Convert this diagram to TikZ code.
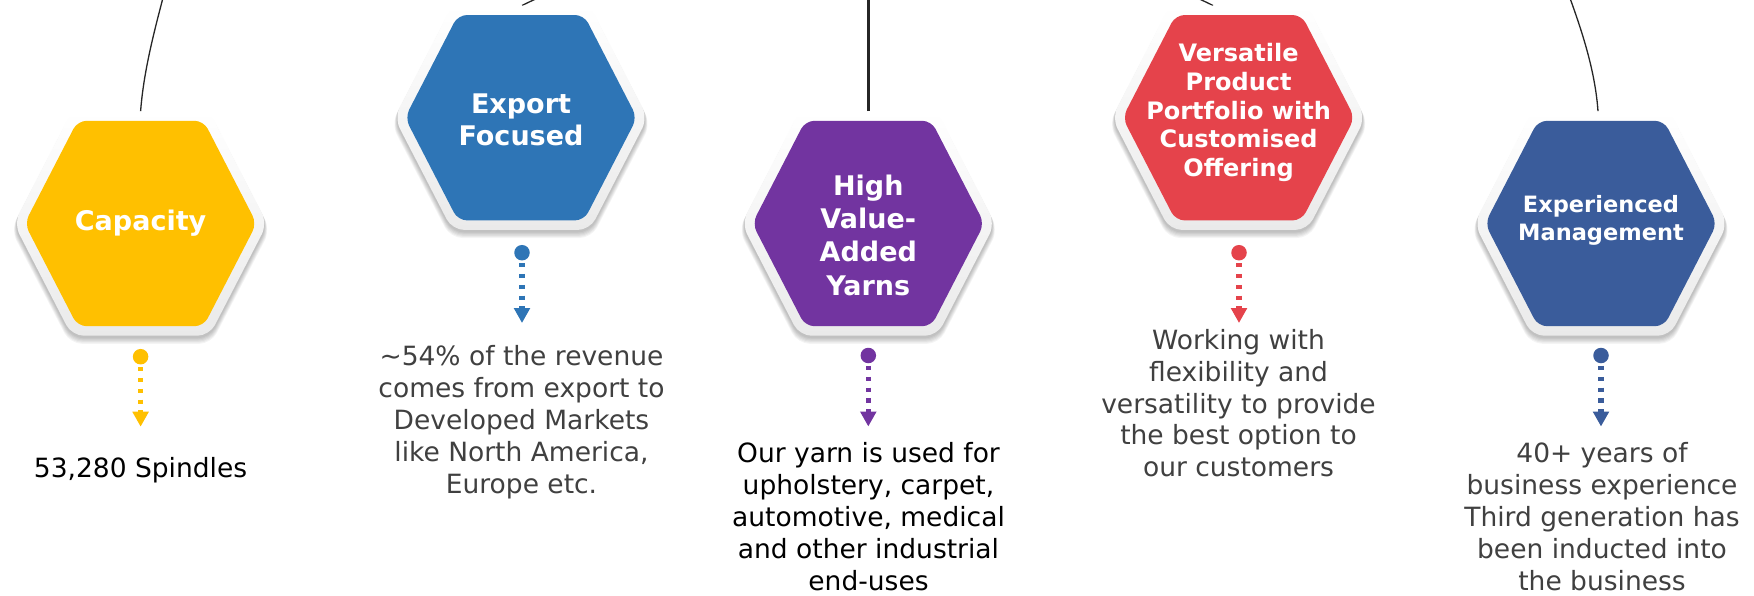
\documentclass[tikz,border=0pt]{standalone}
\usepackage{fontspec}
\setmainfont{DejaVu Sans}
\usetikzlibrary{arrows.meta}

\definecolor{capyellow}{HTML}{FFC000}
\definecolor{expblue}{HTML}{2E75B6}
\definecolor{yarnpurple}{HTML}{7234A0}
\definecolor{versred}{HTML}{E5434B}
\definecolor{mgmtblue}{HTML}{3A5C9B}
\definecolor{bodygray}{HTML}{404040}
\definecolor{linegray}{HTML}{262626}
\definecolor{rimgray}{HTML}{EAEAEA}

% badge: soft shadow, pale rim and coloured hexagon, centred at #1
\newcommand\hexbadge[2]{%
  \begin{scope}[shift={(#1)}]
    \foreach \k in {1,...,6}{
      \fill[black, opacity=0.045, rounded corners=12pt, shift={(0,1.5+0.8*\k)}]
        (0,-112.2-0.3*\k) -- (68.8+0.3*\k,-112.2-0.3*\k) -- (126.7+0.5*\k,0)
        -- (68.8+0.3*\k,112.2+0.3*\k) -- (-68.8-0.3*\k,112.2+0.3*\k)
        -- (-126.7-0.5*\k,0) -- (-68.8-0.3*\k,-112.2-0.3*\k) -- cycle;
    }
    \shade[top color=white, bottom color=rimgray, rounded corners=12pt]
      (0,-112.2) -- (68.8,-112.2) -- (126.7,0) -- (68.8,112.2) -- (-68.8,112.2)
      -- (-126.7,0) -- (-68.8,-112.2) -- cycle;
    \fill[#2, rounded corners=9pt]
      (0,-102.7) -- (63,-102.7) -- (116,0) -- (63,102.7) -- (-63,102.7)
      -- (-116,0) -- (-63,-102.7) -- cycle;
  \end{scope}}

\tikzset{
  title/.style={text=white, align=center, anchor=north, inner sep=0pt},
  note/.style={align=center, anchor=north, inner sep=0pt,
               font=\fontsize{26.5}{31.8}\selectfont},
  pin/.style={circle, fill, inner sep=0pt, minimum size=15.5pt},
  dotline/.style={line width=5.5pt, dash pattern=on 4.3pt off 6.5pt,
                  shorten <=2.5pt, -{Triangle[width=15.5pt,length=15pt]}},
  link/.style={draw=linegray, line width=1.3pt},
}

\begin{document}
\begin{tikzpicture}[x=1pt,y=-1pt]
  \useasboundingbox (0,0) rectangle (1754,595);
  \fill[white] (0,0) rectangle (1754,595);
  \clip (0,0) rectangle (1754,595);

  % connection points on the top of each badge, and far ends of the links
  \coordinate (capT) at (140.6,111.3);
  \coordinate (expT) at (522,5.5);
  \coordinate (hvaT) at (868.3,111.3);
  \coordinate (verT) at (1213,5.5);
  \coordinate (mgtT) at (1598,111.3);
  \coordinate (capF) at (185,-100);
  \coordinate (expF) at (700,-60);
  \coordinate (hvaF) at (868.3,-60);
  \coordinate (verF) at (1040,-60);
  \coordinate (mgtF) at (1535,-100);

  % links running up out of the picture
  \draw[link] (capT) .. controls (146,40) and (175,-30) .. (capF);
  \draw[link] (expT) .. controls (545,-6) and (600,-30) .. (expF);
  \draw[link, line width=2.6pt] (hvaT) -- (hvaF);
  \draw[link] (verT) .. controls (1190,-6) and (1135,-30) .. (verF);
  \draw[link] (mgtT) .. controls (1593,40) and (1556,-30) .. (mgtF);

  % badges
  \hexbadge{140.6,223.5}{capyellow}
  \hexbadge{521,117.7}{expblue}
  \hexbadge{868.3,223.5}{yarnpurple}
  \hexbadge{1238.6,117.7}{versred}
  \hexbadge{1601,223.5}{mgmtblue}

  % badge titles
  \node[title, font=\fontsize{27}{32}\selectfont\bfseries] (cap) at (140.6,208.3)
    {\strut Capacity};
  \node[title, font=\fontsize{27}{32}\selectfont\bfseries] (exp) at (521,90.9)
    {\strut Export\\Focused};
  \node[title, font=\fontsize{27}{33.3}\selectfont\bfseries] (hva) at (868.3,171.7)
    {\strut High\\Value-\\Added\\Yarns};
  \node[title, font=\fontsize{24}{28.7}\selectfont\bfseries] (ver) at (1238.6,41.6)
    {\strut Versatile\\Product\\Portfolio with\\Customised\\Offering};
  \node[title, font=\fontsize{22.5}{28.4}\selectfont\bfseries] (mgt) at (1601,192.4)
    {\strut Experienced\\Management};

  % dotted pointers from each badge to its note
  \node[pin, capyellow] (capdot) at (140.6,356.7) {};
  \node[pin, expblue] (expdot) at (522,252.7) {};
  \node[pin, yarnpurple] (hvadot) at (868.3,355.5) {};
  \node[pin, versred] (verdot) at (1239,252.7) {};
  \node[pin, mgmtblue] (mgtdot) at (1601,355.5) {};
  \coordinate (captip) at (140.6,426.7);
  \coordinate (exptip) at (522,323);
  \coordinate (hvatip) at (868.3,426.5);
  \coordinate (vertip) at (1239,323);
  \coordinate (mgttip) at (1601,426.5);
  \draw[dotline, capyellow] (capdot) -- (captip);
  \draw[dotline, expblue] (expdot) -- (exptip);
  \draw[dotline, yarnpurple] (hvadot) -- (hvatip);
  \draw[dotline, versred] (verdot) -- (vertip);
  \draw[dotline, mgmtblue] (mgtdot) -- (mgttip);

  % notes
  \node[note, text=black] (capnote) at (140.6,455.0)
    {\strut 53,280 Spindles};
  \node[note, text=bodygray] (expnote) at (521.5,343.4)
    {\strut \textasciitilde54\% of the revenue\\comes from export to\\Developed Markets\\like North America,\\Europe etc.};
  \node[note, text=black] (hvanote) at (868.5,440.4)
    {\strut Our yarn is used for\\upholstery, carpet,\\automotive, medical\\and other industrial\\end-uses};
  \node[note, text=bodygray] (vernote) at (1238.5,327.0)
    {\strut Working with\\flexibility and\\versatility to provide\\the best option to\\our customers};
  \node[note, text=bodygray] (mgtnote) at (1602,440.4)
    {\strut 40+ years of\\business experience\\Third generation has\\been inducted into\\the business};
\end{tikzpicture}
\end{document}
